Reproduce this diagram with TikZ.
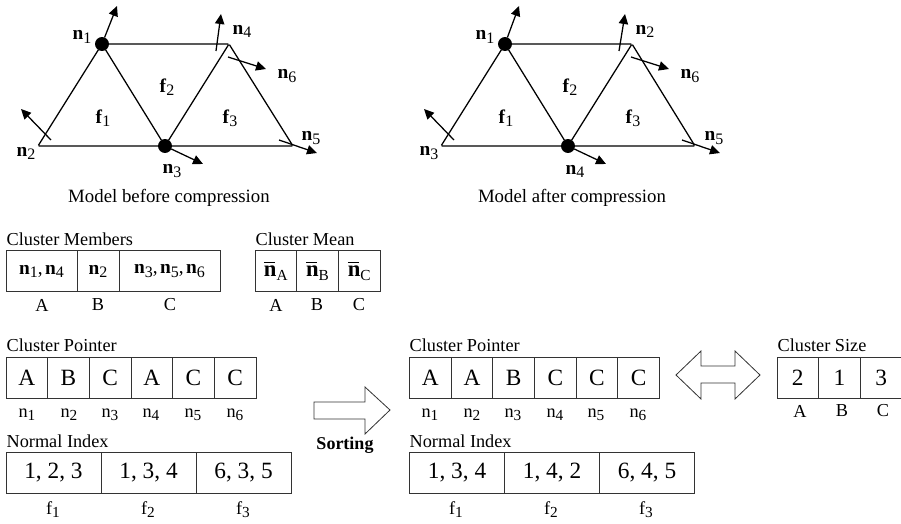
\documentclass[tikz,border=0pt]{standalone}
\usepackage{fontspec}
\setmainfont{Liberation Serif}
\usetikzlibrary{arrows.meta,positioning}
\newcommand{\bsub}[2]{\textbf{#1}\raisebox{-0.35ex}{\fontsize{12}{12}\selectfont #2}}
\newcommand{\rsub}[2]{#1\raisebox{-0.35ex}{\fontsize{11.5}{12}\selectfont #2}}
\newcommand{\nbar}[1]{\rlap{\raisebox{0.62em}{\rule{0.5em}{0.7pt}}}\textbf{n}\raisebox{-0.35ex}{\fontsize{11.5}{12}\selectfont #1}}
\newcommand{\tcomma}{,\hspace{0.12em}}
\begin{document}
\begin{tikzpicture}[
    x=0.75pt, y=-0.75pt,
    line width=0.95pt, draw=black,
    label/.style={inner sep=0pt, font=\fontsize{13.7}{15}\selectfont},
    title/.style={label, anchor=west},
    caption/.style={inner sep=0pt, font=\fontsize{14.1}{16}\selectfont},
    vec/.style={inner sep=0pt, font=\fontsize{14.5}{16}\selectfont},
    dot/.style={circle, fill=black, draw=black, inner sep=0pt, minimum size=9.5pt},
    vertex/.style={inner sep=0pt, minimum size=0pt},
    normal/.style={-{Triangle[length=7.5pt,width=7pt]}, black},
    cell/.style={draw=black!80, line width=0.6pt, inner sep=0pt, outer sep=0pt, minimum height=30.75pt,
                 font=\fontsize{17.5}{20}\selectfont},
    ptrcell/.style={cell, minimum width=31.25pt},
    idxcell/.style={cell, minimum width=71.25pt},
    blockarrow/.style={draw=black!80, fill=white, line width=0.6pt, line join=miter},
  ]
    \useasboundingbox (0,0) rectangle (901,524);

    % model before compression
    \node[dot]    (a1) at (102,44)  {};
    \node[vertex] (a2) at (38,146)  {};
    \node[dot]    (a3) at (165,146) {};
    \node[vertex] (a4) at (229,44)  {};
    \node[vertex] (a5) at (293,146) {};
    \draw (a1) -- (a4) -- (a5) -- (a2) -- (a1) -- (a3) -- (a4);

    \coordinate (a1t) at (117,6);
    \coordinate (a2s) at (51,140);   \coordinate (a2t) at (21,109);
    \coordinate (a3t) at (203,164);
    \coordinate (a4s) at (216,51);   \coordinate (a4t) at (221,14);
    \coordinate (a5s) at (279,140);  \coordinate (a5t) at (317,153);
    \coordinate (a6s) at (228,57);   \coordinate (a6t) at (266,69);
    \draw[normal] (a1) -- (a1t);
    \draw[normal] (a2s) -- (a2t);
    \draw[normal] (a3) -- (a3t);
    \draw[normal] (a4s) -- (a4t);
    \draw[normal] (a5s) -- (a5t);
    \draw[normal] (a6s) -- (a6t);

    \node[vec] (an1) at (82,37)   {\bsub{n}{1}};
    \node[vec] (an2) at (26,153)  {\bsub{n}{2}};
    \node[vec] (an3) at (172,171) {\bsub{n}{3}};
    \node[vec] (an4) at (242,31)  {\bsub{n}{4}};
    \node[vec] (an5) at (311,138) {\bsub{n}{5}};
    \node[vec] (an6) at (287,76)  {\bsub{n}{6}};
    \node[vec] (af1) at (103,118) {\bsub{f}{1}};
    \node[vec] (af2) at (167,87)  {\bsub{f}{2}};
    \node[vec] (af3) at (230,118) {\bsub{f}{3}};
    \node[caption] (acap) at (169,198) {Model before compression};

    % model after compression
    \node[dot]    (b1) at (505,44)  {};
    \node[vertex] (b3) at (441,146) {};
    \node[dot]    (b4) at (568,146) {};
    \node[vertex] (b2) at (632,44)  {};
    \node[vertex] (b5) at (695,146) {};
    \draw (b1) -- (b2) -- (b5) -- (b3) -- (b1) -- (b4) -- (b2);

    \coordinate (b1t) at (519,6);
    \coordinate (b3s) at (454,140);  \coordinate (b3t) at (424,109);
    \coordinate (b4t) at (606,164);
    \coordinate (b2s) at (619,51);   \coordinate (b2t) at (625,14);
    \coordinate (b5s) at (682,140);  \coordinate (b5t) at (720,153);
    \coordinate (b6s) at (631,57);   \coordinate (b6t) at (669,69);
    \draw[normal] (b1) -- (b1t);
    \draw[normal] (b3s) -- (b3t);
    \draw[normal] (b4) -- (b4t);
    \draw[normal] (b2s) -- (b2t);
    \draw[normal] (b5s) -- (b5t);
    \draw[normal] (b6s) -- (b6t);

    \node[vec] (bn1) at (485,37)  {\bsub{n}{1}};
    \node[vec] (bn3) at (429,153) {\bsub{n}{3}};
    \node[vec] (bn4) at (575,171) {\bsub{n}{4}};
    \node[vec] (bn2) at (645,31)  {\bsub{n}{2}};
    \node[vec] (bn5) at (714,138) {\bsub{n}{5}};
    \node[vec] (bn6) at (690,76)  {\bsub{n}{6}};
    \node[vec] (bf1) at (506,118) {\bsub{f}{1}};
    \node[vec] (bf2) at (570,87)  {\bsub{f}{2}};
    \node[vec] (bf3) at (633,118) {\bsub{f}{3}};
    \node[caption] (bcap) at (572,198) {Model after compression};

    % cluster members
    \node[title] (memt) at (6,239) {Cluster Members};
    \node[cell, minimum width=53.25pt, font=\fontsize{14.5}{16}\selectfont] (mema) at (41.5,271)  {\bsub{n}{1}\tcomma\bsub{n}{4}};
    \node[cell, minimum width=31.5pt,  font=\fontsize{14.5}{16}\selectfont] (memb) at (98,271)    {\bsub{n}{2}};
    \node[cell, minimum width=75.75pt, font=\fontsize{14.5}{16}\selectfont] (memc) at (169.5,271) {\bsub{n}{3}\tcomma\bsub{n}{5}\tcomma\bsub{n}{6}};
    \node[label] (memla) at (42,305)  {A};
    \node[label] (memlb) at (98,305)  {B};
    \node[label] (memlc) at (170,305) {C};

    % cluster mean
    \node[title] (meant) at (255,239) {Cluster Mean};
    \node[ptrcell, font=\fontsize{17}{20}\selectfont] (meana) at (275.8,271) {\nbar{A}};
    \node[ptrcell, font=\fontsize{17}{20}\selectfont] (meanb) at (317.5,271) {\nbar{B}};
    \node[ptrcell, font=\fontsize{17}{20}\selectfont] (meanc) at (359.2,271) {\nbar{C}};
    \node[label] (meanla) at (276,305) {A};
    \node[label] (meanlb) at (317,305) {B};
    \node[label] (meanlc) at (359,305) {C};

    % before sorting
    \node[title] (pa) at (6,345) {Cluster Pointer};
    \node[ptrcell] (pa1) at (26.8,377.5)  {A};
    \node[ptrcell] (pa2) at (68.5,377.5)  {B};
    \node[ptrcell] (pa3) at (110.2,377.5) {C};
    \node[ptrcell] (pa4) at (151.8,377.5) {A};
    \node[ptrcell] (pa5) at (193.5,377.5) {C};
    \node[ptrcell] (pa6) at (235.2,377.5) {C};
    \node[label] (pan1) at (27,415)  {\rsub{n}{1}};
    \node[label] (pan2) at (69,415)  {\rsub{n}{2}};
    \node[label] (pan3) at (110,415) {\rsub{n}{3}};
    \node[label] (pan4) at (151,415) {\rsub{n}{4}};
    \node[label] (pan5) at (193,415) {\rsub{n}{5}};
    \node[label] (pan6) at (235,415) {\rsub{n}{6}};

    \node[title] (ia) at (6,441) {Normal Index};
    \node[idxcell] (ia1) at (53.5,472.5)  {1, 2, 3};
    \node[idxcell] (ia2) at (148.5,472.5) {1, 3, 4};
    \node[idxcell] (ia3) at (243.5,472.5) {6, 3, 5};
    \node[label] (iaf1) at (53,510)  {\rsub{f}{1}};
    \node[label] (iaf2) at (148,510) {\rsub{f}{2}};
    \node[label] (iaf3) at (243,510) {\rsub{f}{3}};

    % sorting arrow
    \draw[blockarrow] (314,402) -- (365,402) -- (365,387) -- (390,410) -- (365,434) -- (365,419) -- (314,419) -- cycle;
    \node[inner sep=0pt, font=\bfseries\fontsize{13.5}{15}\selectfont] (sort) at (345,445) {Sorting};

    % after sorting
    \node[title] (pb) at (409,345) {Cluster Pointer};
    \node[ptrcell] (pb1) at (430.3,377.5) {A};
    \node[ptrcell] (pb2) at (472,377.5)   {A};
    \node[ptrcell] (pb3) at (513.7,377.5) {B};
    \node[ptrcell] (pb4) at (555.3,377.5) {C};
    \node[ptrcell] (pb5) at (597,377.5)   {C};
    \node[ptrcell] (pb6) at (638.7,377.5) {C};
    \node[label] (pbn1) at (430,415) {\rsub{n}{1}};
    \node[label] (pbn2) at (472,415) {\rsub{n}{2}};
    \node[label] (pbn3) at (513,415) {\rsub{n}{3}};
    \node[label] (pbn4) at (555,415) {\rsub{n}{4}};
    \node[label] (pbn5) at (596,415) {\rsub{n}{5}};
    \node[label] (pbn6) at (638,415) {\rsub{n}{6}};

    \node[title] (ib) at (409,441) {Normal Index};
    \node[idxcell] (ib1) at (457,472.5)  {1, 3, 4};
    \node[idxcell] (ib2) at (552,472.5)  {1, 4, 2};
    \node[idxcell] (ib3) at (647,472.5)  {6, 4, 5};
    \node[label] (ibf1) at (456,510) {\rsub{f}{1}};
    \node[label] (ibf2) at (551,510) {\rsub{f}{2}};
    \node[label] (ibf3) at (646,510) {\rsub{f}{3}};

    % double arrow
    \draw[blockarrow] (676,375) -- (701,351) -- (701,366) -- (735,366) -- (735,351) -- (760,375) -- (735,399) -- (735,383) -- (701,383) -- (701,399) -- cycle;

    % cluster size
    \node[title] (sizet) at (777,345) {Cluster Size};
    \node[ptrcell] (size1) at (797.8,377.5) {2};
    \node[ptrcell] (size2) at (839.5,377.5) {1};
    \node[ptrcell] (size3) at (881.2,377.5) {3};
    \node[label] (sizela) at (800,411) {A};
    \node[label] (sizelb) at (842,411) {B};
    \node[label] (sizelc) at (883,411) {C};
  \end{tikzpicture}
\end{document}
